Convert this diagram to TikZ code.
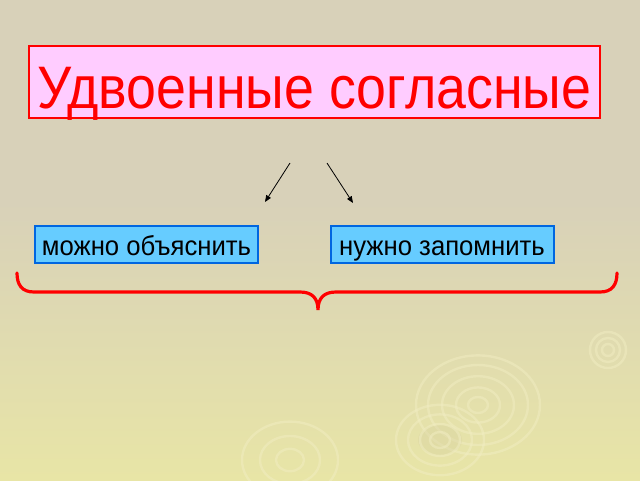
\documentclass[tikz,border=0pt]{standalone}
\usepackage{fontspec}
\setmainfont{Liberation Sans}
\newfontfamily\titlefont[FakeStretch=0.895]{Liberation Sans}
\newfontfamily\boxfont[FakeStretch=0.94]{Liberation Sans}
\usetikzlibrary{arrows.meta}
\definecolor{bgtop}{HTML}{D8D1B9}
\definecolor{bgbot}{HTML}{E8E5A6}
\definecolor{titlefill}{HTML}{FFCCFF}
\definecolor{titlered}{HTML}{FF0000}
\definecolor{boxfill}{HTML}{66CCFF}
\definecolor{boxline}{HTML}{0066E0}
\definecolor{ripple}{HTML}{F1EDC2}
\definecolor{rippledark}{HTML}{D6D09E}
\tikzset{
  titlebox/.style={draw=titlered, line width=1.6pt, fill=titlefill, text=titlered,
    minimum width=571*0.75pt, inner sep=0pt,
    text height=62*0.75pt, text depth=10*0.75pt,
    font=\titlefont\fontsize{45}{50}\selectfont},
  choicebox/.style={draw=boxline, line width=1.5pt, fill=boxfill, text=black,
    minimum width=223*0.75pt, inner sep=0pt,
    text height=29*0.75pt, text depth=8*0.75pt,
    font=\boxfont\fontsize{20.5}{24}\selectfont},
  thinarrow/.style={draw=black, line width=0.6pt, -{Triangle[length=5pt,width=4pt]}},
  bracestyle/.style={draw=titlered, line width=2.4pt, line cap=round},
  ripplering/.style={draw=ripple, line width=1.8pt, opacity=0.5},
}
\begin{document}
\begin{tikzpicture}[x=0.75pt,y=-0.75pt]
\useasboundingbox (0,0) rectangle (640,480);
\fill[bgtop] (0,0) rectangle (640,200);
\shade[top color=bgtop, bottom color=bgbot] (0,199) rectangle (640,480);
% ripples
\foreach \r in {6,12,18} \draw[ripplering] (608,350) circle ({\r*0.75pt});
\foreach \r in {10,22,36,50,62} \draw[ripplering] (478,405) circle ({\r*0.75pt} and {\r*0.6pt});
\fill[rippledark, opacity=0.35] (440,440) ellipse ({22*0.75pt} and {15*0.75pt});
\foreach \r in {10,20,32,44} \draw[ripplering] (440,440) circle ({\r*0.75pt} and {\r*0.6pt});
\foreach \r in {14,30,48} \draw[ripplering] (290,460) circle ({\r*0.75pt} and {\r*0.6pt});
% title
\node[titlebox] (title) at (314.5,82) {Удвоенные согласные};
% arrows
\coordinate (la) at (290,163);
\coordinate (ra) at (327,163);
\coordinate (lb) at (265,202);
\coordinate (rb) at (353,203);
\draw[thinarrow] (la) -- (lb);
\draw[thinarrow] (ra) -- (rb);
% boxes
\node[choicebox] (left) at (146.5,244.5) {можно объяснить};
\node[choicebox] (right) at (442,244.5) {нужно запомнить};
% brace
\coordinate (bl) at (17,273);
\coordinate (br) at (617,273);
\coordinate (bm) at (318,310);
\draw[bracestyle] (bl) .. controls (17,285) and (22,292) .. (34,292) -- (300,292)
  .. controls (312,292) and (318,298) .. (bm)
  .. controls (318,298) and (324,292) .. (336,292) -- (600,292)
  .. controls (612,292) and (617,285) .. (br);
\end{tikzpicture}
\end{document}
